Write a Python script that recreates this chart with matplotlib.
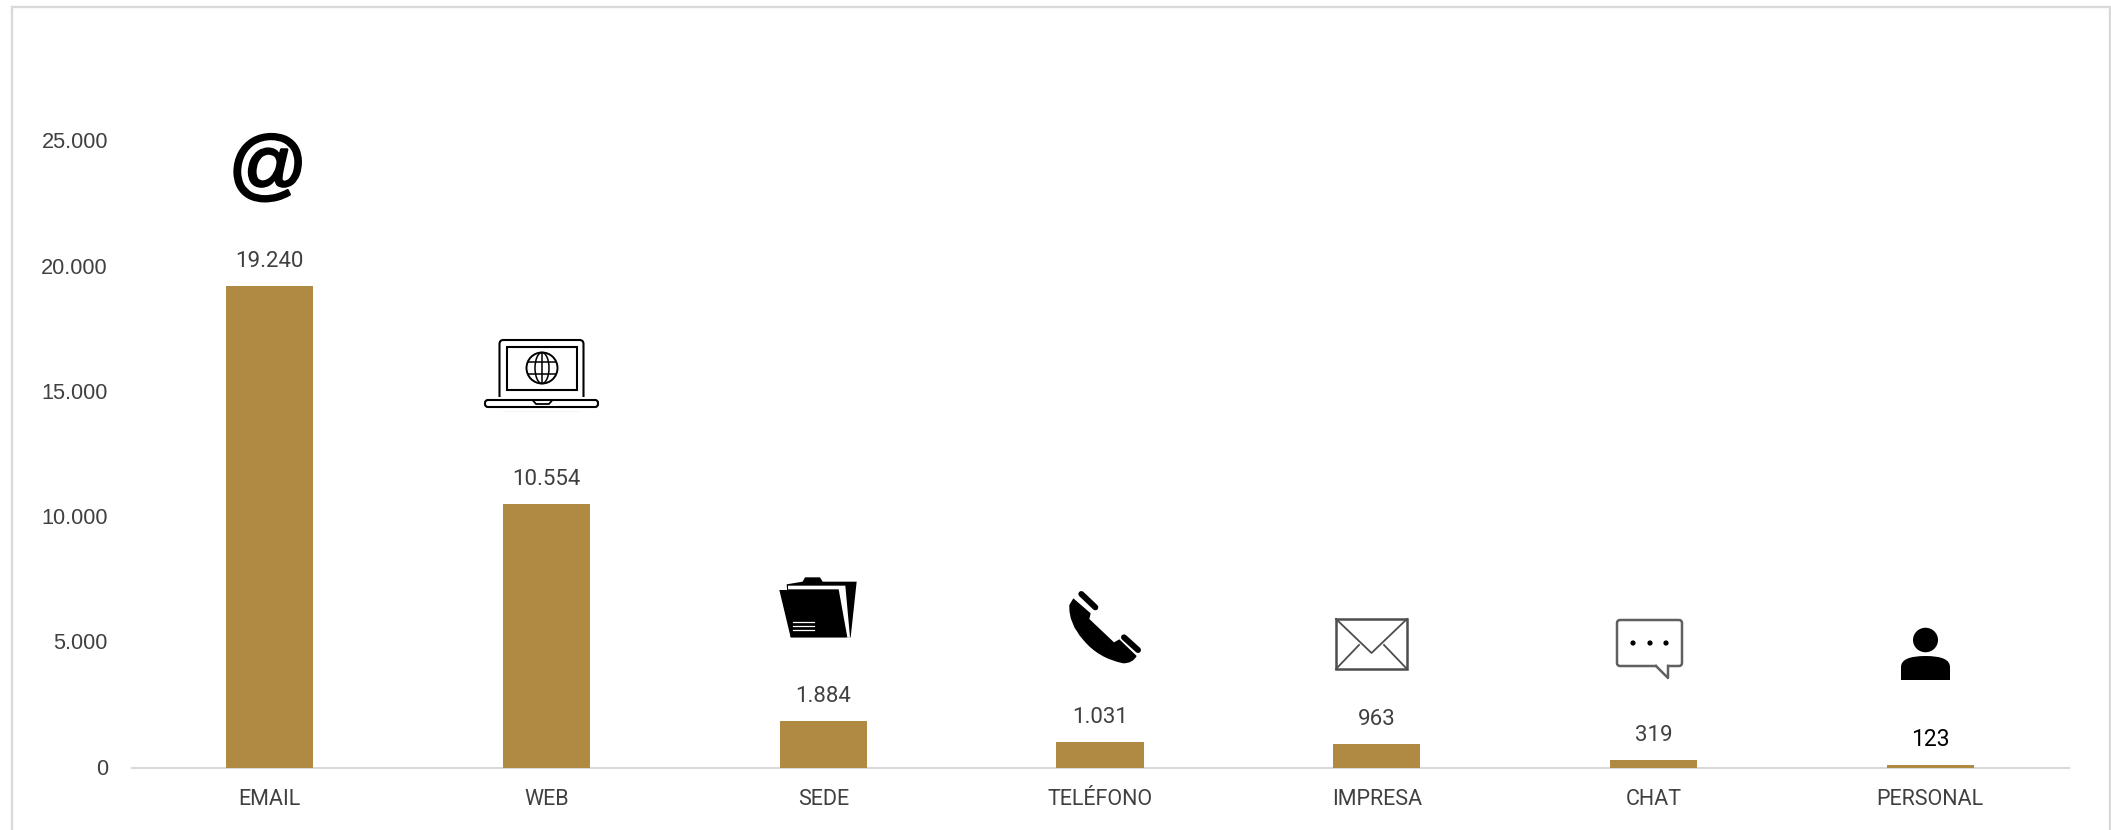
# %% Canales de entrada
import matplotlib
matplotlib.use("Agg")
import matplotlib.pyplot as plt
import matplotlib.patheffects as pe
from matplotlib.patches import Circle, Ellipse, FancyBboxPatch, PathPatch, Polygon, Rectangle
from matplotlib.path import Path
from matplotlib.ticker import FuncFormatter
from matplotlib.transforms import ScaledTranslation

categories = ["EMAIL", "WEB", "SEDE", "TELÉFONO", "IMPRESA", "CHAT", "PERSONAL"]
values = [19240, 10554, 1884, 1031, 963, 319, 123]
y_ticks = [0, 5000, 10000, 15000, 20000, 25000]

GOLD = "#B08A42"
GRAY = "#D9D9D9"
TEXT = "#404040"
W, H = 2111, 830


def miles(x):
    return f"{int(x):,}".replace(",", ".")


fig = plt.figure(figsize=(W / 100, H / 100), dpi=100, facecolor="white")

# %% Bars
left, right, base, top = 131.5, 2068.5, 768, 141.5
ax = fig.add_axes([left / W, 1 - base / H, (right - left) / W, (base - top) / H])
ax.patch.set_alpha(0)
ax.bar(range(len(values)), values, width=87 / 276.7, color=GOLD, zorder=3)
ax.set_xlim(-0.5, len(values) - 0.5)
ax.set_ylim(0, 25000)
ax.set_yticks(y_ticks)
ax.yaxis.set_major_formatter(FuncFormatter(lambda v, p: miles(v)))
ax.set_xticks(range(len(categories)))
ax.set_xticklabels(categories, fontfamily="Roboto", fontsize=15.5, color=TEXT)
ax.tick_params(axis="x", length=0, pad=15)
ax.tick_params(axis="y", length=0, pad=17, labelsize=15.7, labelcolor=TEXT)
# tick labels sit a little high on the gridless axis
nudge = ScaledTranslation(0, 1.3 / 100, fig.dpi_scale_trans)
for tick in ax.yaxis.get_major_ticks():
    tick.label1.set_fontfamily("Liberation Sans")
    tick.label1.set_transform(tick.label1.get_transform() + nudge)
for s in ["top", "left", "right"]:
    ax.spines[s].set_visible(False)
ax.spines["bottom"].set_color(GRAY)
ax.spines["bottom"].set_linewidth(1.5)

for i, v in enumerate(values):
    last = i == len(values) - 1
    ax.annotate(miles(v), (i, v), xytext=(0, 18.5 if last else 17.5),
                textcoords="offset points", ha="center", va="center",
                fontfamily="Roboto", fontsize=16.5 if last else 16,
                color="black" if last else TEXT)

# %% Frame and icons, in pixels
ov = fig.add_axes([0, 0, 1, 1], zorder=5)
ov.set_xlim(0, W)
ov.set_ylim(H, 0)
ov.axis("off")
ov.patch.set_alpha(0)

ov.plot([12, 12, 2110, 2110], [H, 7, 7, H], color=GRAY, lw=1.7, solid_joinstyle="miter")

# email, thickened with a stroke
ov.text(268, 170, "@", fontfamily="Liberation Sans", fontsize=56, ha="center",
        va="center", color="black",
        path_effects=[pe.withStroke(linewidth=1.8, foreground="black")])

# web: laptop with globe
ov.add_patch(FancyBboxPatch((499.5, 340), 84, 70, boxstyle="round,pad=0,rounding_size=4",
                            fc="none", ec="black", lw=1.5, clip_on=False))
ov.add_patch(Rectangle((495, 397), 95, 14, fc="white", ec="none"))
ov.add_patch(Rectangle((507, 347), 70, 43, fc="none", ec="black", lw=1.5))
ov.add_patch(Circle((542, 368), 15.5, fc="none", ec="black", lw=1.4))
ov.add_patch(Ellipse((542, 368), 14, 31, fc="none", ec="black", lw=1.1))
ov.plot([542, 542], [353, 383], color="black", lw=1.1)
ov.plot([528, 556], [362, 362], color="black", lw=1.1)
ov.plot([528, 556], [374, 374], color="black", lw=1.1)
ov.add_patch(FancyBboxPatch((485, 400), 113, 7, boxstyle="round,pad=0,rounding_size=3",
                            fc="none", ec="black", lw=1.5))
ov.plot([533, 536, 549, 552], [400.5, 404, 404, 400.5], color="black", lw=1.3)


# sede: folder, points given from its own corner
def zx2(x):
    return 740 + x / 3


def zy2(y):
    return 550 + y / 3


def poly2(pts, **kw):
    ov.add_patch(Polygon([(zx2(x), zy2(y)) for x, y in pts], closed=True, ec="none", **kw))


poly2([(188, 95), (195, 82), (240, 82), (248, 95), (350, 95), (332, 262), (152, 262), (140, 103)], fc="black")
poly2([(144, 107), (316, 107), (330, 262), (322, 262), (296, 118), (144, 118)], fc="white")
poly2([(118, 120), (292, 120), (320, 262), (152, 262)], fc="black")
for y in [215, 228, 240]:
    ov.plot([zx2(160), zx2(222)], [zy2(y), zy2(y)], color="white", lw=0.9)

# telefono
body = [(1000, 145), (1052, 190), (1048, 207), (1122, 277), (1138, 268), (1190, 318),
        (1178, 340), (1150, 340), (1075, 325), (1030, 270), (985, 220), (988, 165), (1000, 145)]
codes = [Path.MOVETO, Path.LINETO, Path.LINETO, Path.LINETO, Path.LINETO, Path.LINETO,
         Path.CURVE3, Path.CURVE3, Path.CURVE3, Path.CURVE3, Path.CURVE3, Path.CURVE3, Path.LINETO]
ov.add_patch(PathPatch(Path([(zx2(x), zy2(y)) for x, y in body], codes), fc="black", ec="none"))
ov.plot([zx2(1024), zx2(1066)], [zy2(132), zy2(172)], color="black", lw=4.3, solid_capstyle="round")
ov.plot([zx2(1152), zx2(1194)], [zy2(262), zy2(300)], color="black", lw=4.3, solid_capstyle="round")

# impresa: envelope
ENV = "#4D4D4D"
ov.add_patch(Rectangle((1336, 619), 71, 50, fc="none", ec=ENV, lw=1.8))
ov.plot([1336, 1371.5, 1407], [619, 653, 619], color=ENV, lw=1.3)
ov.plot([1336, 1359], [669, 645], color=ENV, lw=1.3)
ov.plot([1407, 1384], [669, 645], color=ENV, lw=1.3)

# chat bubble
CH = "#606060"
ov.add_patch(FancyBboxPatch((1617, 620), 65, 46, boxstyle="round,pad=0,rounding_size=3",
                            fc="none", ec=CH, lw=1.8))
ov.add_patch(Rectangle((1657, 664), 10, 4, fc="white", ec="none"))
ov.plot([1656, 1668, 1668], [666, 678, 666], color=CH, lw=1.8)
for x in [1633, 1650, 1666]:
    ov.add_patch(Circle((x, 643), 2.6, fc="black", ec="none"))

# personal
ov.add_patch(Ellipse((1925.5, 640), 25, 24.5, fc="black", ec="none"))
person = [(1901, 680), (1901, 667), (1901, 656), (1925.5, 656), (1950, 656), (1950, 667), (1950, 680), (1901, 680)]
pcodes = [Path.MOVETO, Path.LINETO, Path.CURVE3, Path.CURVE3, Path.CURVE3, Path.CURVE3, Path.LINETO, Path.CLOSEPOLY]
ov.add_patch(PathPatch(Path(person, pcodes), fc="black", ec="none"))

fig.savefig("out.png", dpi=100)
